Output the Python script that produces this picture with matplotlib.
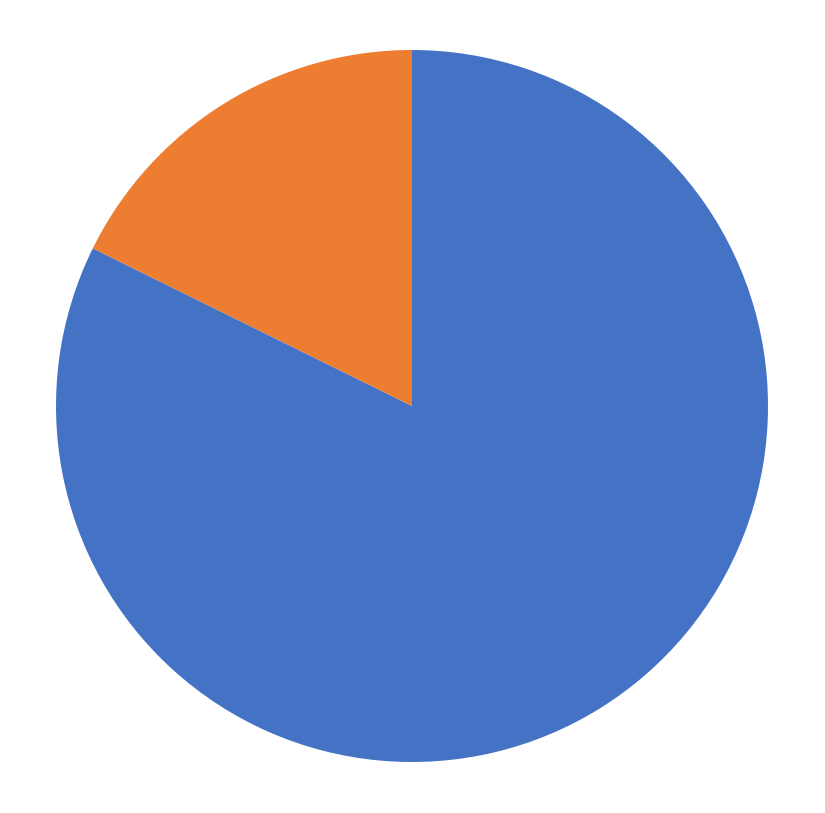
import matplotlib
matplotlib.use("Agg")
import matplotlib.pyplot as plt

labels = ["A", "B"]
values = [82.3, 17.7]
colors = ["#4472C4", "#ED7D31"]

fig = plt.figure(figsize=(8.25, 8.13), dpi=100)
ax = fig.add_axes([56/825, 51/813, 712/825, 712/813])
ax.pie(values, colors=colors, startangle=90, counterclock=False,
       radius=1, wedgeprops=dict(linewidth=0))
ax.set_xlim(-1.0, 1.0)
ax.set_ylim(-1.0, 1.0)
ax.axis("off")
fig.savefig("out.png", dpi=100)
